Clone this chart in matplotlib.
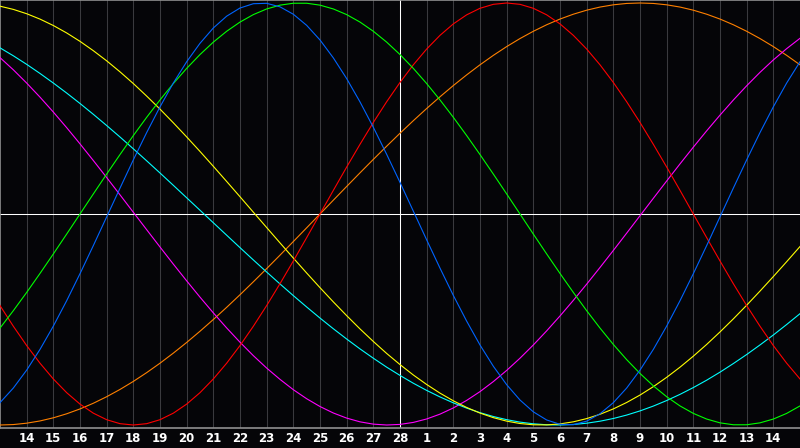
import numpy as np
import matplotlib
matplotlib.use("Agg")
import matplotlib.pyplot as plt

# day labels along the bottom (today = 28)
day_labels = ["14", "15", "16", "17", "18", "19", "20", "21", "22", "23", "24", "25", "26", "27", "28",
              "1", "2", "3", "4", "5", "6", "7", "8", "9", "10", "11", "12", "13", "14"]
today_index = 15

# curve values, one every half day from the left edge (61 samples)
red = [-0.4339, -0.5320, -0.6235, -0.7071, -0.7818, -0.8467, -0.9010, -0.9439, -0.9749, -0.9937,
       -1.0, -0.9937, -0.9749, -0.9439, -0.9010, -0.8467, -0.7818, -0.7071, -0.6235, -0.5320,
       -0.4339, -0.3303, -0.2225, -0.1120, 0.0, 0.1120, 0.2225, 0.3303, 0.4339, 0.5320,
       0.6235, 0.7071, 0.7818, 0.8467, 0.9010, 0.9439, 0.9749, 0.9937, 1.0, 0.9937,
       0.9749, 0.9439, 0.9010, 0.8467, 0.7818, 0.7071, 0.6235, 0.5320, 0.4339, 0.3303,
       0.2225, 0.1120, 0.0, -0.1120, -0.2225, -0.3303, -0.4339, -0.5320, -0.6235, -0.7071, -0.7818]
blue = [-0.8941, -0.8248, -0.7399, -0.6417, -0.5313, -0.4110, -0.2828, -0.1497, -0.0136, 0.1226,
        0.2566, 0.3859, 0.5078, 0.6208, 0.7216, 0.8090, 0.8816, 0.9376, 0.9762, 0.9966,
        0.9985, 0.9818, 0.9467, 0.8941, 0.8248, 0.7399, 0.6417, 0.5313, 0.4110, 0.2828,
        0.1497, 0.0136, -0.1226, -0.2566, -0.3859, -0.5078, -0.6208, -0.7216, -0.8090, -0.8816,
        -0.9376, -0.9762, -0.9966, -0.9985, -0.9818, -0.9467, -0.8941, -0.8248, -0.7399, -0.6417,
        -0.5313, -0.4110, -0.2828, -0.1497, -0.0136, 0.1226, 0.2566, 0.3859, 0.5078, 0.6208, 0.7216]
green = [-0.5406, -0.4582, -0.3717, -0.2817, -0.1893, -0.0951, 0.0, 0.0951, 0.1893, 0.2817,
         0.3717, 0.4582, 0.5406, 0.6182, 0.6901, 0.7557, 0.8146, 0.8660, 0.9096, 0.9450,
         0.9718, 0.9898, 0.9989, 0.9989, 0.9898, 0.9718, 0.9450, 0.9096, 0.8660, 0.8146,
         0.7557, 0.6901, 0.6182, 0.5406, 0.4582, 0.3717, 0.2817, 0.1893, 0.0951, 0.0,
         -0.0951, -0.1893, -0.2817, -0.3717, -0.4582, -0.5406, -0.6182, -0.6901, -0.7557, -0.8146,
         -0.8660, -0.9096, -0.9450, -0.9718, -0.9898, -0.9989, -0.9989, -0.9898, -0.9718, -0.9450, -0.9096]
orange = [-1.0, -0.9979, -0.9914, -0.9808, -0.9659, -0.9469, -0.9239, -0.8969, -0.8660, -0.8315,
          -0.7934, -0.7518, -0.7071, -0.6593, -0.6088, -0.5556, -0.5, -0.4423, -0.3827, -0.3214,
          -0.2588, -0.1951, -0.1305, -0.0654, 0.0, 0.0654, 0.1305, 0.1951, 0.2588, 0.3214,
          0.3827, 0.4423, 0.5, 0.5556, 0.6088, 0.6593, 0.7071, 0.7518, 0.7934, 0.8315,
          0.8660, 0.8969, 0.9239, 0.9469, 0.9659, 0.9808, 0.9914, 0.9979, 1.0, 0.9979,
          0.9914, 0.9808, 0.9659, 0.9469, 0.9239, 0.8969, 0.8660, 0.8315, 0.7934, 0.7518, 0.7071]
yellow = [0.9849, 0.9697, 0.9492, 0.9237, 0.8933, 0.8581, 0.8183, 0.7740, 0.7260, 0.6738,
          0.6182, 0.5589, 0.4971, 0.4323, 0.3653, 0.2965, 0.2260, 0.1542, 0.0818, 0.0087,
          -0.0642, -0.1369, -0.2088, -0.2797, -0.3491, -0.4166, -0.4817, -0.5446, -0.6041, -0.6609,
          -0.7136, -0.7630, -0.8080, -0.8490, -0.8853, -0.9169, -0.9436, -0.9652, -0.9817, -0.9930,
          -0.9990, -0.9996, -0.9949, -0.9849, -0.9697, -0.9492, -0.9237, -0.8933, -0.8581, -0.8183,
          -0.7741, -0.7260, -0.6738, -0.6182, -0.5590, -0.4971, -0.4324, -0.3653, -0.2965, -0.2260, -0.1542]
cyan = [0.7875, 0.7498, 0.7093, 0.6661, 0.6207, 0.5733, 0.5238, 0.4724, 0.4193, 0.3649,
        0.3090, 0.2521, 0.1944, 0.1359, 0.0769, 0.0178, -0.0415, -0.1005, -0.1594, -0.2177,
        -0.2750, -0.3315, -0.3868, -0.4407, -0.4932, -0.5438, -0.5925, -0.6393, -0.6835, -0.7259,
        -0.7650, -0.8021, -0.8360, -0.8670, -0.8950, -0.9199, -0.9415, -0.9598, -0.9747, -0.9863,
        -0.9943, -0.9989, -0.9999, -0.9975, -0.9915, -0.9820, -0.9692, -0.9529, -0.9332, -0.9103,
        -0.8841, -0.8548, -0.8226, -0.7876, -0.7496, -0.7088, -0.6660, -0.6206, -0.5734, -0.5237, -0.4724]
magenta = [0.7411, 0.6834, 0.6206, 0.5538, 0.4832, 0.4093, 0.3325, 0.2534, 0.1728, 0.0908,
           0.0082, -0.0743, -0.1564, -0.2375, -0.3168, -0.3941, -0.4686, -0.5400, -0.6077, -0.6713,
           -0.7302, -0.7837, -0.8327, -0.8755, -0.9124, -0.9431, -0.9673, -0.9850, -0.9959, -1.0,
           -0.9972, -0.9877, -0.9714, -0.9485, -0.9191, -0.8834, -0.8418, -0.7942, -0.7413, -0.6834,
           -0.6207, -0.5538, -0.4832, -0.4093, -0.3325, -0.2534, -0.1728, -0.0908, -0.0082, 0.0743,
           0.1564, 0.2375, 0.3168, 0.3941, 0.4686, 0.5400, 0.6077, 0.6713, 0.7302, 0.7837, 0.8327]

days = np.arange(len(red)) / 2

bg = "#050508"
fig = plt.figure(figsize=(8, 4.48), dpi=100, facecolor=bg)
ax = fig.add_axes([0, 20 / 448, 1, 428 / 448])
ax.set_facecolor(bg)

# day grid
for k in range(1, len(day_labels) + 1):
    ax.axvline(k, color="#3a3a3e", lw=0.75, zorder=1)
ax.axvline(today_index, color="white", lw=0.75, zorder=2)
ax.axhline(0, color="white", lw=0.75, zorder=2)

series = [
    (orange, "#ff8000"),
    (magenta, "#ff00ff"),
    (cyan, "#00ffff"),
    (yellow, "#ffff00"),
    (red, "#ff0000"),
    (green, "#00ff00"),
    (blue, "#0064ff"),
]
for vals, col in series:
    ax.plot(days, vals, color=col, lw=0.8, zorder=3)

ax.set_xlim(0, 30)
ax.set_ylim(-214 / 211, 214 / 211)
ax.set_yticks([])
ax.set_xticks(range(1, len(day_labels) + 1))
ax.set_xticklabels(day_labels, color="white", fontsize=8.5, fontweight="bold")
ax.tick_params(axis="x", length=0, pad=3)

for s in ["top", "left", "bottom"]:
    ax.spines[s].set_color("#909090")
    ax.spines[s].set_linewidth(1.2)
ax.spines["right"].set_visible(False)

fig.savefig("out.png", dpi=100, facecolor=bg)
